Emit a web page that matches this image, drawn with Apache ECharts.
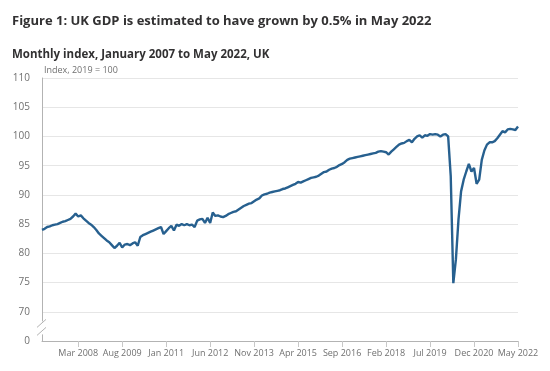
<!DOCTYPE html>
<html><head><meta charset="utf-8">
<script src="https://cdn.jsdelivr.net/npm/echarts@6/dist/echarts.min.js"></script>
<style>html,body{margin:0;padding:0;background:#fff}#c{width:550px;height:371px}</style>
</head><body><div id="c"></div>
<script>
var monthNames = ['Jan','Feb','Mar','Apr','May','Jun','Jul','Aug','Sep','Oct','Nov','Dec'];
var startYear = 2007;
var gdp2007 = [84.0,84.2,84.5,84.6,84.8,84.9,85.0,85.2,85.4,85.5,85.7,85.9];
var gdp2008 = [86.3,86.8,86.3,86.5,86.0,85.6,85.2,84.9,84.5,84.0,83.4,83.0];
var gdp2009 = [82.6,82.2,81.9,81.4,80.9,81.3,81.8,81.0,81.5,81.6,81.4,81.7];
var gdp2010 = [81.9,81.3,82.8,83.1,83.3,83.5,83.7,83.9,84.1,84.3,84.5,83.3];
var gdp2011 = [83.8,84.3,84.7,83.9,84.9,84.7,85.0,84.8,85.0,84.8,84.9,84.5];
var gdp2012 = [85.6,85.8,85.9,85.2,86.1,85.2,87.0,86.4,86.5,86.3,86.2,86.4];
var gdp2013 = [86.7,86.9,87.1,87.2,87.5,87.8,88.1,88.3,88.5,88.6,88.9,89.2];
var gdp2014 = [89.4,89.9,90.1,90.2,90.4,90.5,90.6,90.7,90.8,91.0,91.1,91.3];
var gdp2015 = [91.5,91.7,91.9,92.2,92.1,92.3,92.5,92.7,92.9,93.0,93.1,93.3];
var gdp2016 = [93.6,93.9,94.0,94.3,94.5,94.6,94.8,95.1,95.3,95.6,96.0,96.2];
var gdp2017 = [96.3,96.4,96.5,96.6,96.7,96.8,96.9,97.0,97.1,97.2,97.4,97.5];
var gdp2018 = [97.4,97.3,96.9,97.4,97.8,98.2,98.6,98.8,98.9,99.2,99.4,99.0];
var gdp2019 = [99.6,100.0,100.2,99.8,100.2,100.1,100.4,100.3,100.4,100.3,100.0,100.3];
var gdp2020 = [100.4,100.0,93.2,74.9,79.0,85.8,90.6,92.6,94.0,95.3,94.0,94.6];
var gdp2021 = [91.9,92.6,96.0,97.6,98.6,99.0,99.0,99.2,99.7,100.3,100.9,100.7];
var gdp2022 = [101.2,101.3,101.2,101.1,101.7];
var yTicks = [65,70,75,80,85,90,95,100,105,110];
var yTickLabels = ['0','70','75','80','85','90','95','100','105','110'];

var values = [].concat(gdp2007,gdp2008,gdp2009,gdp2010,gdp2011,gdp2012,gdp2013,gdp2014,gdp2015,gdp2016,gdp2017,gdp2018,gdp2019,gdp2020,gdp2021,gdp2022);
var categories = values.map(function(v,i){ return monthNames[i%12] + ' ' + (startYear + Math.floor(i/12)); });
var showTick = function(i){ return i >= 14 && (i - 14) % 17 === 0; };

var chart = echarts.init(document.getElementById('c'));
var font = '"Open Sans", sans-serif';
chart.setOption({
  animation:false,
  title:[{text:'Figure 1: UK GDP is estimated to have grown by 0.5% in May 2022', left:7, top:10,
          textStyle:{fontFamily:font, fontSize:13, fontWeight:'bold', color:'#323132'}},
         {text:'Monthly index, January 2007 to May 2022, UK', left:7, top:44,
          textStyle:{fontFamily:font, fontSize:11.5, fontWeight:'bold', color:'#323132'}}],
  grid:{left:42, right:32, top:78, bottom:30},
  xAxis:{type:'category', data:categories, boundaryGap:false,
    axisLine:{lineStyle:{color:'#b3b3b3'}},
    axisTick:{interval:function(i){return showTick(i);}, length:6, lineStyle:{color:'#c8c8c8'}},
    axisLabel:{interval:function(i){return showTick(i);}, color:'#707070', fontFamily:font, fontSize:9, margin:8,
      hideOverlap:false, showMinLabel:true, showMaxLabel:true}},
  yAxis:{type:'value', min:65, max:110, interval:5,
    name:'Index, 2019 = 100', nameLocation:'end', nameGap:3,
    nameTextStyle:{align:'left', color:'#707070', fontFamily:font, fontSize:9, padding:[0,0,0,2]},
    axisLine:{show:true, lineStyle:{color:'#b3b3b3'}},
    axisTick:{show:false},
    splitLine:{lineStyle:{color:'#e6e6e6'}},
    axisLabel:{color:'#707070', fontFamily:font, fontSize:10, margin:12,
      formatter:function(v){ var k = yTicks.indexOf(v); return k>=0 ? yTickLabels[k] : ''; }}},
  series:[{type:'line', data:values, showSymbol:false, symbol:'none',
    lineStyle:{color:'#27608f', width:2.4}}]
});
var p70 = chart.convertToPixel({yAxisIndex:0}, 70);
var p65 = chart.convertToPixel({yAxisIndex:0}, 65);
var ax = chart.convertToPixel({xAxisIndex:0}, 0);
var mid = (p70 + p65) / 2 + 2;
chart.setOption({graphic:[
  {type:'rect', shape:{x:ax-5, y:mid-7, width:10, height:13}, style:{fill:'#fff'}, z:100},
  {type:'line', shape:{x1:ax-5, y1:mid-1, x2:ax+4, y2:mid-9}, style:{stroke:'#b3b3b3', lineWidth:1}, z:101},
  {type:'line', shape:{x1:ax-5, y1:mid+7, x2:ax+4, y2:mid-1}, style:{stroke:'#b3b3b3', lineWidth:1}, z:101}
]});
</script></body></html>
